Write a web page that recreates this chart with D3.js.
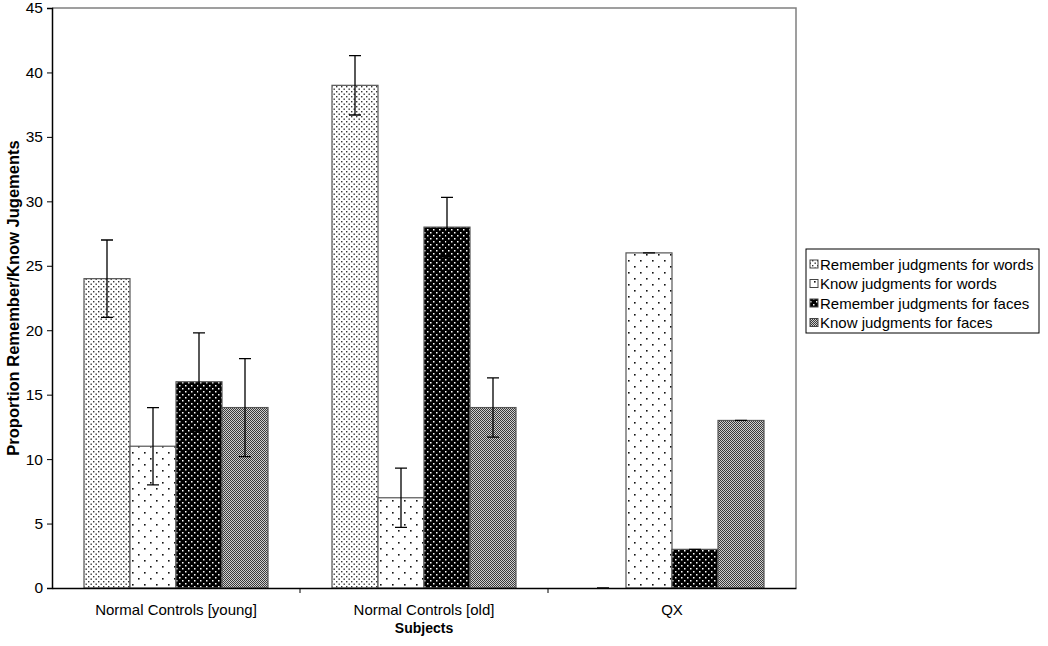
<!DOCTYPE html>
<html>
<script src="https://d3js.org/d3.v7.min.js"></script>
<body style="margin:0;background:#fff;">
<svg id="chart" width="1048" height="646"></svg>
<script>

// data
const subjects = ["Normal Controls [young]", "Normal Controls [old]", "QX"]
const seriesNames = ["Remember judgments for words", "Know judgments for words",
                     "Remember judgments for faces", "Know judgments for faces"]
const rememberWords = [24, 39, 0]
const knowWords = [11, 7, 26]
const rememberFaces = [16, 28, 3]
const knowFaces = [14, 14, 13]
// error bar half widths (QX ones are zero)
const errRememberWords = [3, 2.3, 0]
const errKnowWords = [3, 2.3, 0]
const errRememberFaces = [3.8, 2.3, 0]
const errKnowFaces = [3.8, 2.3, 0]
const yTicks = [0, 5, 10, 15, 20, 25, 30, 35, 40, 45]

const values = [rememberWords, knowWords, rememberFaces, knowFaces]
const errors = [errRememberWords, errKnowWords, errRememberFaces, errKnowFaces]

const plotLeft = 52, plotRight = 796, plotTop = 8, plotBottom = 588
const svg = d3.select("#chart")
const font = "'Liberation Sans', Arial, sans-serif"

// patterns
const defs = svg.append("defs")
function pattern(id, w, h, bg, dots, col, r) {
  const p = defs.append("pattern").attr("id", id).attr("patternUnits", "userSpaceOnUse")
    .attr("width", w).attr("height", h)
  p.append("rect").attr("width", w).attr("height", h).attr("fill", bg)
  dots.forEach(d => p.append("rect").attr("x", d[0]).attr("y", d[1])
    .attr("width", r).attr("height", r).attr("fill", col))
}
pattern("p0", 5, 5, "#fff", [[1, 1], [3.5, 3.5]], "#333", 1.4)
pattern("p1", 12, 12, "#fff", [[2, 2], [8, 8]], "#111", 1.6)
pattern("p2", 6, 6, "#000", [[1, 1], [4, 4]], "#fff", 1.5)
pattern("p3", 2, 2, "#cfcfcf", [[0, 0], [1, 1]], "#3a3a3a", 1)
const fills = ["url(#p0)", "url(#p1)", "url(#p2)", "url(#p3)"]

const x0 = d3.scaleBand().domain(subjects).range([plotLeft, plotRight])
const x1 = d3.scaleBand().domain(d3.range(4)).range([32, 216])
const y = d3.scaleLinear().domain([0, 45]).range([plotBottom, plotTop])

// frame (top and right in gray)
svg.append("path")
  .attr("d", `M${plotLeft},${plotTop}H${plotRight}V${plotBottom}`)
  .attr("fill", "none").attr("stroke", "#808080").attr("stroke-width", 1.5)

// bars
subjects.forEach((s, i) => {
  const g = svg.append("g").attr("transform", `translate(${x0(s)},0)`)
  values.forEach((vals, k) => {
    g.append("rect")
      .attr("x", x1(k)).attr("width", x1.bandwidth())
      .attr("y", y(vals[i])).attr("height", y(0) - y(vals[i]))
      .attr("fill", fills[k]).attr("stroke", "#555").attr("stroke-width", 1.2)
  })
  values.forEach((vals, k) => {
    const e = errors[k][i]
    const cx = x1(k) + x1.bandwidth() / 2
    g.append("path")
      .attr("d", `M${cx},${y(vals[i] + e)}V${y(vals[i] - e)}` +
        `M${cx - 6},${y(vals[i] + e)}h12M${cx - 6},${y(vals[i] - e)}h12`)
      .attr("fill", "none").attr("stroke", "#000").attr("stroke-width", 1.3)
  })
})

// axes
const yAxis = svg.append("g").attr("transform", `translate(${plotLeft},0)`)
  .call(d3.axisLeft(y).tickValues(yTicks).tickSize(5).tickPadding(4))
const xAxis = svg.append("g").attr("transform", `translate(0,${plotBottom})`)
  .call(d3.axisBottom(x0).tickSize(0).tickPadding(16))
xAxis.selectAll(".tick line").remove()
xAxis.selectAll(".sep").data(x0.domain().slice(1)).join("line")
  .attr("x1", d => x0(d)).attr("x2", d => x0(d)).attr("y1", 0).attr("y2", 5)
  .attr("stroke", "#000")
;[yAxis, xAxis].forEach(a => {
  a.select(".domain").attr("stroke", "#000").attr("stroke-width", 1.5)
  a.selectAll("text").attr("font-family", font).attr("font-size", 15).attr("fill", "#000")
})
yAxis.selectAll("text").attr("font-size", 15.5)

// axis titles
svg.append("text").attr("x", (plotLeft + plotRight) / 2).attr("y", 633)
  .attr("text-anchor", "middle").attr("font-family", font).attr("font-size", 14)
  .attr("font-weight", "bold").text("Subjects")
svg.append("text").attr("transform", `translate(19,${(plotTop + plotBottom) / 2}) rotate(-90)`)
  .attr("text-anchor", "middle").attr("font-family", font).attr("font-size", 16.5)
  .attr("font-weight", "bold").text("Proportion Remember/Know Jugements")

// legend
const lg = svg.append("g").attr("transform", "translate(806,249)")
lg.append("rect").attr("width", 233).attr("height", 84)
  .attr("fill", "#fff").attr("stroke", "#000").attr("stroke-width", 1)
seriesNames.forEach((n, k) => {
  const yy = 15 + k * 19.5
  lg.append("rect").attr("x", 4).attr("y", yy - 4).attr("width", 8).attr("height", 8)
    .attr("fill", fills[k]).attr("stroke", "#444").attr("stroke-width", 1)
  lg.append("text").attr("x", 14).attr("y", yy + 5.5).attr("font-family", font)
    .attr("font-size", 15).text(n)
})
</script>
</body>
</html>
